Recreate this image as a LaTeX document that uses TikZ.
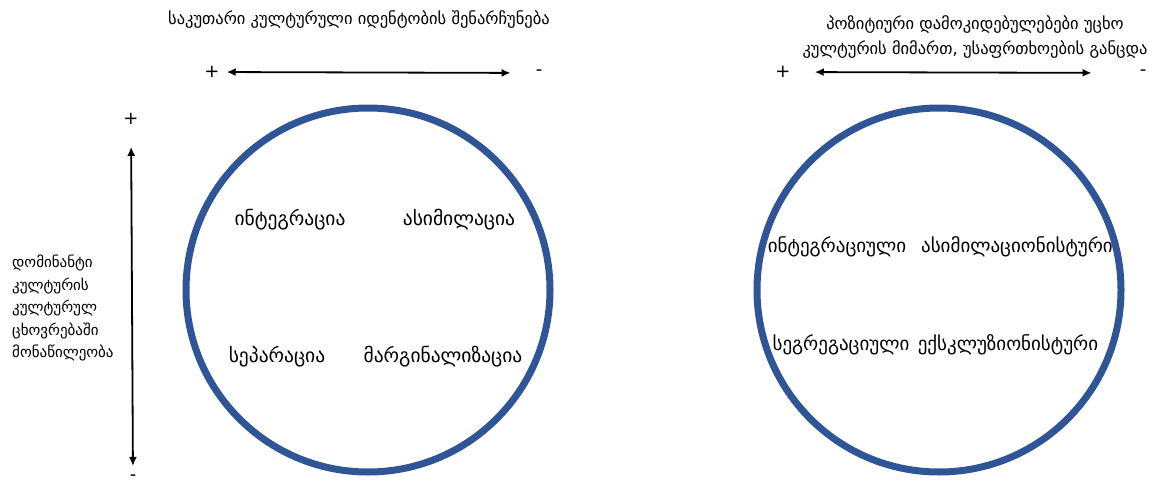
\documentclass[tikz,border=0pt]{standalone}
\usepackage{fontspec}
\newfontfamily\geofont{DejaVu Sans}
\usetikzlibrary{arrows.meta}
\definecolor{ringblue}{RGB}{47,85,151}
\tikzset{
	kartuli/.style={font=\geofont\fontsize{15}{22.5}\selectfont, inner sep=0pt},
	heading/.style={font=\geofont\fontsize{16.5}{25}\selectfont, inner sep=0pt},
	term/.style={font=\geofont\fontsize{19.5}{20}\selectfont, inner sep=0pt},
	sign/.style={font=\geofont\fontsize{18}{18}\selectfont, inner sep=1pt},
	ring/.style={circle, draw=ringblue, line width=7pt, minimum size=364pt, inner sep=0pt},
	axis/.style={{Latex[length=9pt,width=8pt]}-{Latex[length=9pt,width=8pt]}, line width=1.8pt}
}
\begin{document}
\begin{tikzpicture}[x=1pt,y=-1pt]
\useasboundingbox (0,0) rectangle (1161,487);
% left model
\node[heading] (head1) at (359,20) {საკუთარი კულტურული იდენტობის შენარჩუნება};
\node[sign] (plus1) at (212,72) {+};
\node[sign] (minus1) at (539,73) {-};
\draw[axis, shorten <=6pt, shorten >=24pt] (plus1) -- (minus1);
\node[sign] (plusv) at (131,119) {+};
\node[sign] (minusv) at (133,478) {-};
\draw[axis, shorten <=21pt, shorten >=8pt] (plusv) -- (minusv);
\node[kartuli, align=left, anchor=west] (side) at (12,308)
	{დომინანტი\\კულტურის\\კულტურულ\\ცხოვრებაში\\მონაწილეობა};
\node[ring] (ring1) at (368,290) {};
\node[term] (integ) at (290,220) {ინტეგრაცია};
\node[term] (assim) at (459,220) {ასიმილაცია};
\node[term] (separ) at (277,357) {სეპარაცია};
\node[term] (margin) at (443,357) {მარგინალიზაცია};
% right model
\node[heading, align=center] (head2) at (975,37)
	{პოზიტიური დამოკიდებულებები უცხო\\კულტურის მიმართ, უსაფრთხოების განცდა};
\node[sign] (plus2) at (783,72) {+};
\node[sign] (minus2) at (1143,73) {-};
\draw[axis, shorten <=23pt, shorten >=47pt] (plus2) -- (minus2);
\node[ring] (ring2) at (939,290) {};
\node[term, font=\geofont\fontsize{19}{20}\selectfont] (integ2) at (837,247) {ინტეგრაციული};
\node[term, font=\geofont\fontsize{19}{20}\selectfont] (assim2) at (1017,247) {ასიმილაციონისტური};
\node[term, font=\geofont\fontsize{19}{20}\selectfont] (segr) at (841,345) {სეგრეგაციული};
\node[term, font=\geofont\fontsize{19}{20}\selectfont] (excl) at (1008,345) {ექსკლუზიონისტური};
\end{tikzpicture}
\end{document}
